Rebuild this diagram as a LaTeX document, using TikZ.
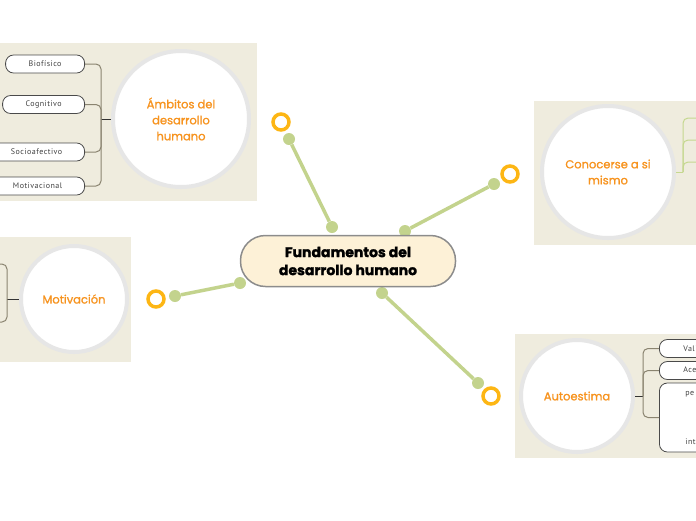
\documentclass[tikz,border=0pt]{standalone}
\usepackage{fontspec}
\usepackage{xcolor}
\usepackage{tikz}
\setmainfont{Poppins}
\newfontfamily\hubfont{Poppins}[FakeBold=1.2]
\newfontfamily\rootfont{Poppins}[FakeBold=1.6]
\newfontfamily\leaffont{PT Sans}[LetterSpace=6]

\definecolor{panelbg}{HTML}{EFECDE}
\definecolor{ringgray}{HTML}{E6E6E6}
\definecolor{topicorange}{HTML}{F7931E}
\definecolor{leafline}{HTML}{4A4A4A}
\definecolor{leaftext}{HTML}{404040}
\definecolor{linkbrown}{HTML}{8A8470}
\definecolor{stubdark}{HTML}{333333}
\definecolor{stemgreen}{HTML}{C3D38D}
\definecolor{ringorange}{HTML}{FDB614}
\definecolor{rootfill}{HTML}{FDF1D7}
\definecolor{rootline}{HTML}{8C8C8C}
\definecolor{greenline}{HTML}{C5D88F}

\begin{document}
\begin{tikzpicture}[
    x=1pt, y=-1pt,
    hub/.style={circle, draw=ringgray, line width=4pt, fill=white, minimum size=136pt, align=center, text=topicorange, font=\hubfont\fontsize{11.5}{16}\selectfont},
    leaf/.style={rectangle, draw=leafline, fill=white, rounded corners=8pt, minimum height=18pt, inner sep=1pt, line width=0.8pt, text=leaftext, font=\leaffont\fontsize{8}{10}\selectfont},
    link/.style={draw=linkbrown, line width=1pt, rounded corners=5pt},
    greenlink/.style={draw=greenline, line width=1pt, rounded corners=5pt},
    stub/.style={draw=stubdark, line width=1pt},
    knob/.style={circle, fill=stemgreen, minimum size=12pt, inner sep=0pt},
    ring/.style={circle, draw=ringorange, line width=3.5pt, minimum size=16pt, inner sep=0pt},
    stem/.style={draw=stemgreen, line width=3.5pt},
    root/.style={rectangle, rounded corners=25pt, draw=rootline, line width=1.5pt, fill=rootfill, minimum width=215pt, minimum height=51pt, align=center, font=\rootfont\bfseries\fontsize{14}{18}\selectfont},
]
\useasboundingbox (0,0) rectangle (696,520);

\fill[panelbg] (0,43) rectangle (257,201);
\fill[panelbg] (534,101) rectangle (696,245);
\fill[panelbg] (0,237) rectangle (131,362);
\fill[panelbg] (515,334) rectangle (696,458);

\node[hub] (amb) at (181,119) {Ámbitos del\\desarrollo\\ humano};
\node[hub, minimum size=132pt] (con) at (608,172) {Conocerse a si\\mismo};
\node[hub, minimum size=112pt] (aut) at (577,396) {Autoestima};
\node[hub, minimum size=106pt] (mot) at (74,299) {Motivación};

\node[leaf, anchor=east, minimum width=79pt] (bio) at (85,64) {Biofísico};
\node[leaf, anchor=east, minimum width=82pt] (cog) at (85,104.5) {Cognitivo};
\node[leaf, anchor=east, minimum width=96pt] (soc) at (85,152) {Socioafectivo};
\node[leaf, anchor=east, minimum width=94pt] (mov) at (85,186) {Motivacional};

\node[leaf, anchor=west, text width=80pt, align=left, inner xsep=24pt] (val) at (659,348.5) {Vali};
\node[leaf, anchor=west, text width=80pt, align=left, inner xsep=24pt] (acp) at (659,370.5) {Acep};
\node[leaf, anchor=west, minimum height=69pt, text width=80pt, align=left, inner xsep=26pt] (per) at (659,417.5) {pe\\[39pt]inte};

\coordinate (mo1) at (-6,264);
\coordinate (mo2) at (-6,322);
\coordinate (co1) at (702,118);
\coordinate (co2) at (702,140);
\coordinate (co3) at (702,162);

\draw[stub] (amb.west) -- ++(-10,0) coordinate (ambj);
\draw[link] (ambj) |- (bio.east);
\draw[link] (ambj) |- (cog.east);
\draw[link] (ambj) |- (soc.east);
\draw[link] (ambj) |- (mov.east);

\draw[stub] (mot.west) -- ++(-12,0) coordinate (motj);
\draw[link] (motj) |- (mo1);
\draw[link] (motj) |- (mo2);

\draw[greenlink] (con.east) -- ++(7,0) coordinate (conj);
\draw[greenlink] (conj) |- (co1);
\draw[greenlink] (conj) |- (co2);
\draw[greenlink] (conj) |- (co3);

\draw[stub] (aut.east) -- ++(8,0) coordinate (autj);
\draw[link] (autj) |- (val.west);
\draw[link] (autj) |- (acp.west);
\draw[link] (autj) |- (per.west);

\node[knob] (k1a) at (332,227) {};
\node[knob] (k1b) at (289,139) {};
\node[ring] (r1) at (281,122) {};
\node[knob] (k2a) at (405,231) {};
\node[knob] (k2b) at (494,184) {};
\node[ring] (r2) at (510,174) {};
\node[knob] (k3a) at (240,283) {};
\node[knob] (k3b) at (175,296) {};
\node[ring] (r3) at (156,299) {};
\node[knob] (k4a) at (382,293) {};
\node[knob] (k4b) at (478,383) {};
\node[ring] (r4) at (491,396) {};

\draw[stem] (k1a) -- (k1b);
\draw[stem] (k2a) -- (k2b);
\draw[stem] (k3a) -- (k3b);
\draw[stem] (k4a) -- (k4b);

\node[root] (fdh) at (348,261) {Fundamentos del\\desarrollo humano};

\end{tikzpicture}
\end{document}
